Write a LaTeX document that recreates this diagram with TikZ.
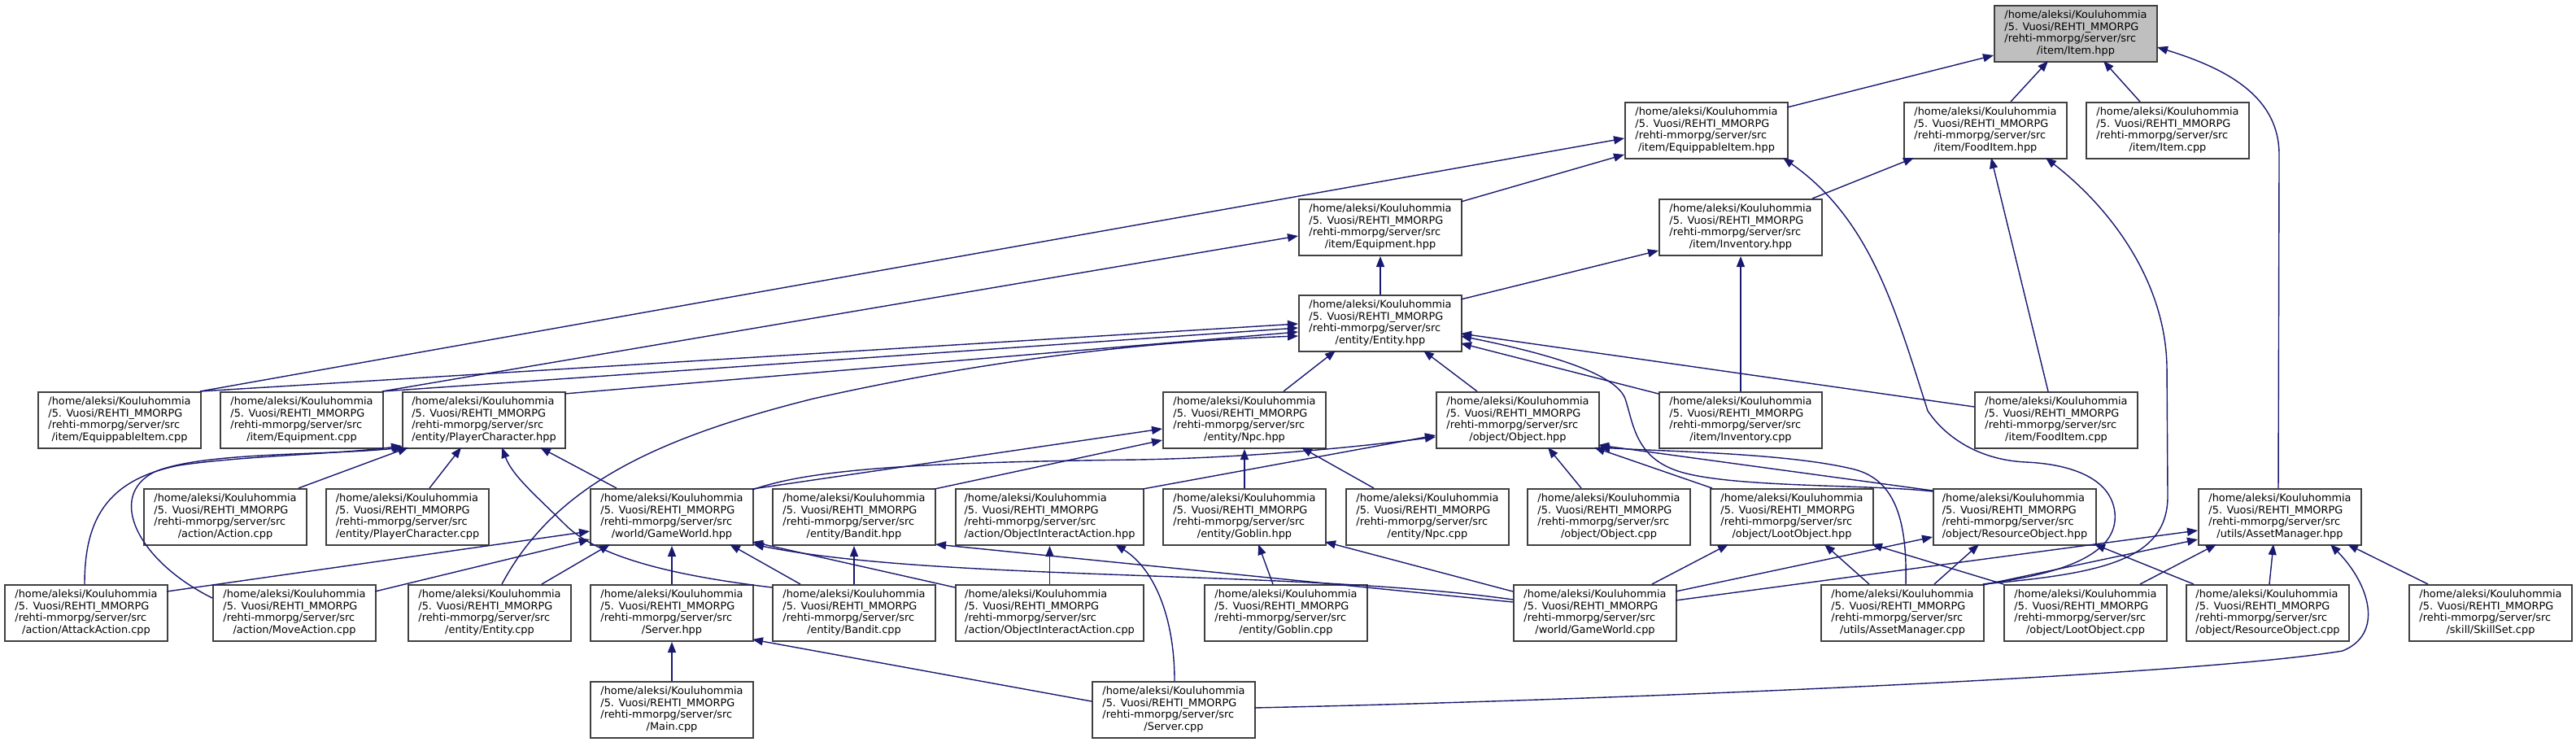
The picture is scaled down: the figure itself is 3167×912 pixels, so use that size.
\documentclass[tikz,border=0pt]{standalone}
\usepackage{fontspec}
\setmainfont{DejaVu Sans}
\usetikzlibrary{arrows.meta,calc}
\definecolor{edgeblue}{HTML}{191970}
\definecolor{boxline}{HTML}{404040}
\definecolor{rootfill}{HTML}{BFBFBF}
\newcommand{\lbl}[1]{\begin{tabular}{@{}l@{}}/home/aleksi/Kouluhommia\\/5. Vuosi/REHTI\_MMORPG\\/rehti-mmorpg/server/src\\\multicolumn{1}{@{}c@{}}{#1}\end{tabular}}
\begin{document}
\begin{tikzpicture}[x=1pt,y=-1pt,
  fbox/.style={draw=boxline, line width=2pt, fill=white, inner sep=0pt, minimum width=200pt, minimum height=69pt, anchor=north west, font=\fontsize{12.9}{14.7}\selectfont},
  wbox/.style={fbox, minimum width=231pt},
  rootbox/.style={fbox, fill=rootfill},
  dep/.style={draw=edgeblue, line width=1.4pt, -{Triangle[length=13pt,width=10pt]}}]
\useasboundingbox (0,0) rectangle (3167,912);
% row A
\node[rootbox] (n1) at (2451,6) {\lbl{/item/Item.hpp}};
% row B
\node[fbox] (n2) at (1997,125) {\lbl{/item/EquippableItem.hpp}};
\node[fbox] (n3) at (2340,125) {\lbl{/item/FoodItem.hpp}};
\node[fbox] (n4) at (2564,125) {\lbl{/item/Item.cpp}};
% row C
\node[fbox] (n5) at (1596,244) {\lbl{/item/Equipment.hpp}};
\node[fbox] (n6) at (2039,244) {\lbl{/item/Inventory.hpp}};
% row D
\node[fbox] (n7) at (1596,362) {\lbl{/entity/Entity.hpp}};
% row E
\node[fbox] (n8) at (46,481) {\lbl{/item/EquippableItem.cpp}};
\node[fbox] (n9) at (270,481) {\lbl{/item/Equipment.cpp}};
\node[fbox] (n10) at (494,481) {\lbl{/entity/PlayerCharacter.hpp}};
\node[fbox] (n11) at (1429,481) {\lbl{/entity/Npc.hpp}};
\node[fbox] (n12) at (1765,481) {\lbl{/object/Object.hpp}};
\node[fbox] (n13) at (2039,481) {\lbl{/item/Inventory.cpp}};
\node[fbox] (n14) at (2427,481) {\lbl{/item/FoodItem.cpp}};
% row F
\node[fbox] (n15) at (176,600) {\lbl{/action/Action.cpp}};
\node[fbox] (n16) at (400,600) {\lbl{/entity/PlayerCharacter.cpp}};
\node[fbox] (n17) at (725,600) {\lbl{/world/GameWorld.hpp}};
\node[fbox] (n18) at (949,600) {\lbl{/entity/Bandit.hpp}};
\node[wbox] (n19) at (1174,600) {\lbl{/action/ObjectInteractAction.hpp}};
\node[fbox] (n20) at (1429,600) {\lbl{/entity/Goblin.hpp}};
\node[fbox] (n21) at (1654,600) {\lbl{/entity/Npc.cpp}};
\node[fbox] (n22) at (1877,600) {\lbl{/object/Object.cpp}};
\node[fbox] (n23) at (2102,600) {\lbl{/object/LootObject.hpp}};
\node[fbox] (n24) at (2376,600) {\lbl{/object/ResourceObject.hpp}};
\node[fbox] (n25) at (2702,600) {\lbl{/utils/AssetManager.hpp}};
% row G
\node[fbox] (n26) at (5,718) {\lbl{/action/AttackAction.cpp}};
\node[fbox] (n27) at (261,718) {\lbl{/action/MoveAction.cpp}};
\node[fbox] (n28) at (501,718) {\lbl{/entity/Entity.cpp}};
\node[fbox] (n29) at (725,718) {\lbl{/Server.hpp}};
\node[fbox] (n30) at (949,718) {\lbl{/entity/Bandit.cpp}};
\node[wbox] (n31) at (1174,718) {\lbl{/action/ObjectInteractAction.cpp}};
\node[fbox] (n32) at (1480,718) {\lbl{/entity/Goblin.cpp}};
\node[fbox] (n33) at (1860,718) {\lbl{/world/GameWorld.cpp}};
\node[fbox] (n34) at (2238,718) {\lbl{/utils/AssetManager.cpp}};
\node[fbox] (n35) at (2463,718) {\lbl{/object/LootObject.cpp}};
\node[fbox] (n36) at (2687,718) {\lbl{/object/ResourceObject.cpp}};
\node[fbox] (n37) at (2961,718) {\lbl{/skill/SkillSet.cpp}};
% row H
\node[fbox] (n38) at (725,837) {\lbl{/Main.cpp}};
\node[fbox] (n39) at (1342,837) {\lbl{/Server.cpp}};

% edges
\draw[dep] ($(n2.north west)+(200,7)$) -- ($(n1.north west)+(0,62)$);
\draw[dep] ($(n3.north west)+(132,0)$) -- ($(n1.north west)+(67,69)$);
\draw[dep] ($(n4.north west)+(67,0)$) -- ($(n1.north west)+(135,69)$);
\draw[dep] ($(n25.north west)+(99,0)$) -- (2802,190) .. controls (2802,120) and (2740,85) .. ($(n1.north west)+(201,52)$);
\draw[dep] ($(n8.north west)+(200,0)$) -- ($(n2.north west)+(0,45)$);
\draw[dep] ($(n9.north west)+(200,0)$) -- ($(n5.north west)+(0,46)$);
\draw[dep] ($(n5.north west)+(200,4)$) -- ($(n2.north west)+(0,65)$);
\draw[dep] (n7.north) -- (n5.south);
\draw[dep] ($(n7.north west)+(200,6)$) -- ($(n6.north west)+(0,64)$);
\draw[dep] ($(n6.north west)+(189,0)$) -- ($(n3.north west)+(13,69)$);
\draw[dep] (n13.north) -- (n6.south);
\draw[dep] ($(n14.north west)+(91,0)$) -- ($(n3.north west)+(108,69)$);
\draw[dep] ($(n34.north west)+(200,0)$) .. controls (2580,705) and (2665,690) .. (2665,610) -- (2664,450) .. controls (2662,350) and (2600,260) .. ($(n3.north west)+(175,69)$);
\draw[dep] ($(n34.north west)+(200,0)$) .. controls (2540,705) and (2605,680) .. (2600,630) .. controls (2595,585) and (2540,570) .. (2490,568) .. controls (2430,565) and (2390,535) .. (2370,505) .. controls (2330,380) and (2300,270) .. ($(n2.north west)+(195,69)$);
\draw[dep] ($(n36.north west)+(10,0)$) -- ($(n24.north west)+(199,69)$);
\draw[dep] ($(n34.north west)+(140,0)$) -- ($(n24.north west)+(57,69)$);
\draw[dep] ($(n34.north west)+(60,0)$) -- ($(n23.north west)+(141,69)$);
\draw[dep] ($(n35.north west)+(0,0)$) -- ($(n23.north west)+(199,69)$);
\draw[dep] ($(n34.north west)+(200,1)$) -- ($(n25.north west)+(0,63)$);
\draw[dep] ($(n33.north west)+(200,20)$) -- ($(n25.north west)+(0,52)$);
\draw[dep] ($(n33.north west)+(200,9)$) -- ($(n24.north west)+(0,60)$);
\draw[dep] ($(n33.north west)+(171,0)$) -- ($(n23.north west)+(23,69)$);
\draw[dep] ($(n33.north west)+(0,9)$) -- ($(n20.north west)+(200,66)$);
\draw[dep] ($(n33.north west)+(0,19)$) .. controls (1600,700) and (1150,715) .. ($(n17.north west)+(201,69)$);
\draw[dep] ($(n33.north west)+(0,22)$) -- ($(n18.north west)+(201,69)$);
\draw[dep] ($(n39.north west)+(200,33)$) .. controls (2000,860) and (2700,830) .. (2880,800) .. controls (2930,780) and (2915,720) .. ($(n25.north west)+(163,69)$);
\draw[dep] ($(n36.north west)+(103,0)$) -- ($(n25.north west)+(93,69)$);
\draw[dep] ($(n35.north west)+(168,0)$) -- ($(n25.north west)+(23,69)$);
\draw[dep] ($(n37.north west)+(24,0)$) -- ($(n25.north west)+(184,69)$);
\draw[dep] ($(n24.north west)+(0,3)$) -- ($(n12.north west)+(200,66)$);
\draw[dep] ($(n34.north west)+(105,0)$) .. controls (2345,640) and (2330,590) .. (2280,577) .. controls (2200,557) and (2050,555) .. ($(n12.north west)+(201,69)$);
\draw[dep] ($(n23.north west)+(3,0)$) -- ($(n12.north west)+(195,69)$);
\draw[dep] ($(n22.north west)+(67,0)$) -- ($(n12.north west)+(138,69)$);
\draw[dep] ($(n19.north west)+(231,1)$) -- ($(n12.north west)+(0,54)$);
\draw[dep] ($(n17.north west)+(200,2)$) .. controls (1000,575) and (1150,568) .. (1400,565) .. controls (1550,562) and (1680,548) .. ($(n12.north west)+(0,56)$);
\draw[dep] ($(n17.north west)+(200,1)$) -- ($(n11.north west)+(0,46)$);
\draw[dep] ($(n18.north west)+(200,1)$) -- ($(n11.north west)+(0,60)$);
\draw[dep] (n20.north) -- (n11.south);
\draw[dep] ($(n21.north west)+(35,0)$) -- ($(n11.north west)+(171,69)$);
\draw[dep] ($(n11.north west)+(149,0)$) -- ($(n7.north west)+(46,69)$);
\draw[dep] ($(n12.north west)+(51,0)$) -- ($(n7.north west)+(154,69)$);
\draw[dep] ($(n14.north west)+(0,19)$) -- ($(n7.north west)+(200,48)$);
\draw[dep] ($(n13.north west)+(0,3)$) -- ($(n7.north west)+(200,60)$);
\draw[dep] ($(n24.north west)+(0,4)$) .. controls (2300,595) and (2120,600) .. (2060,578) .. controls (2010,560) and (2008,520) .. (1998,490) .. controls (1985,455) and (1880,430) .. ($(n7.north west)+(200,51)$);
\draw[dep] ($(n10.north west)+(200,3)$) -- ($(n7.north west)+(0,46)$);
\draw[dep] ($(n9.north west)+(200,0)$) -- ($(n7.north west)+(0,41)$);
\draw[dep] ($(n8.north west)+(200,0)$) -- ($(n7.north west)+(0,36)$);
\draw[dep] ($(n28.north west)+(116,0)$) .. controls (680,600) and (800,540) .. (1000,490) .. controls (1200,445) and (1400,420) .. ($(n7.north west)+(0,51)$);
\draw[dep] ($(n15.north west)+(191,0)$) -- ($(n10.north west)+(8,69)$);
\draw[dep] ($(n16.north west)+(128,0)$) -- ($(n10.north west)+(73,69)$);
\draw[dep] ($(n17.north west)+(33,0)$) -- ($(n10.north west)+(170,69)$);
\draw[dep] ($(n26.north west)+(99,0)$) .. controls (104,640) and (130,590) .. (220,572) .. controls (300,560) and (420,558) .. ($(n10.north west)+(0,67)$);
\draw[dep] ($(n27.north west)+(0,17)$) .. controls (170,690) and (130,610) .. (190,580) .. controls (250,555) and (400,560) .. ($(n10.north west)+(2,69)$);
\draw[dep] ($(n30.north west)+(0,4)$) .. controls (850,710) and (740,690) .. (695,645) .. controls (660,610) and (630,585) .. ($(n10.north west)+(123,69)$);
\draw[dep] ($(n26.north west)+(200,9)$) -- ($(n17.north west)+(0,53)$);
\draw[dep] ($(n27.north west)+(200,9)$) -- ($(n17.north west)+(0,63)$);
\draw[dep] ($(n28.north west)+(165,0)$) -- ($(n17.north west)+(25,69)$);
\draw[dep] (n29.north) -- (n17.south);
\draw[dep] ($(n30.north west)+(35,0)$) -- ($(n17.north west)+(172,69)$);
\draw[dep] ($(n31.north west)+(0,4)$) -- ($(n17.north west)+(200,66)$);
\draw[dep] (n30.north) -- (n18.south);
\draw[dep] (n31.north) -- (n19.south);
\draw[dep] ($(n39.north west)+(102,0)$) .. controls (1444,760) and (1420,700) .. ($(n19.north west)+(197,69)$);
\draw[dep] ($(n32.north west)+(85,0)$) -- ($(n20.north west)+(118,69)$);
\draw[dep] (n38.north) -- (n29.south);
\draw[dep] ($(n39.north west)+(0,25)$) -- ($(n29.north west)+(200,68)$);
\end{tikzpicture}
\end{document}
